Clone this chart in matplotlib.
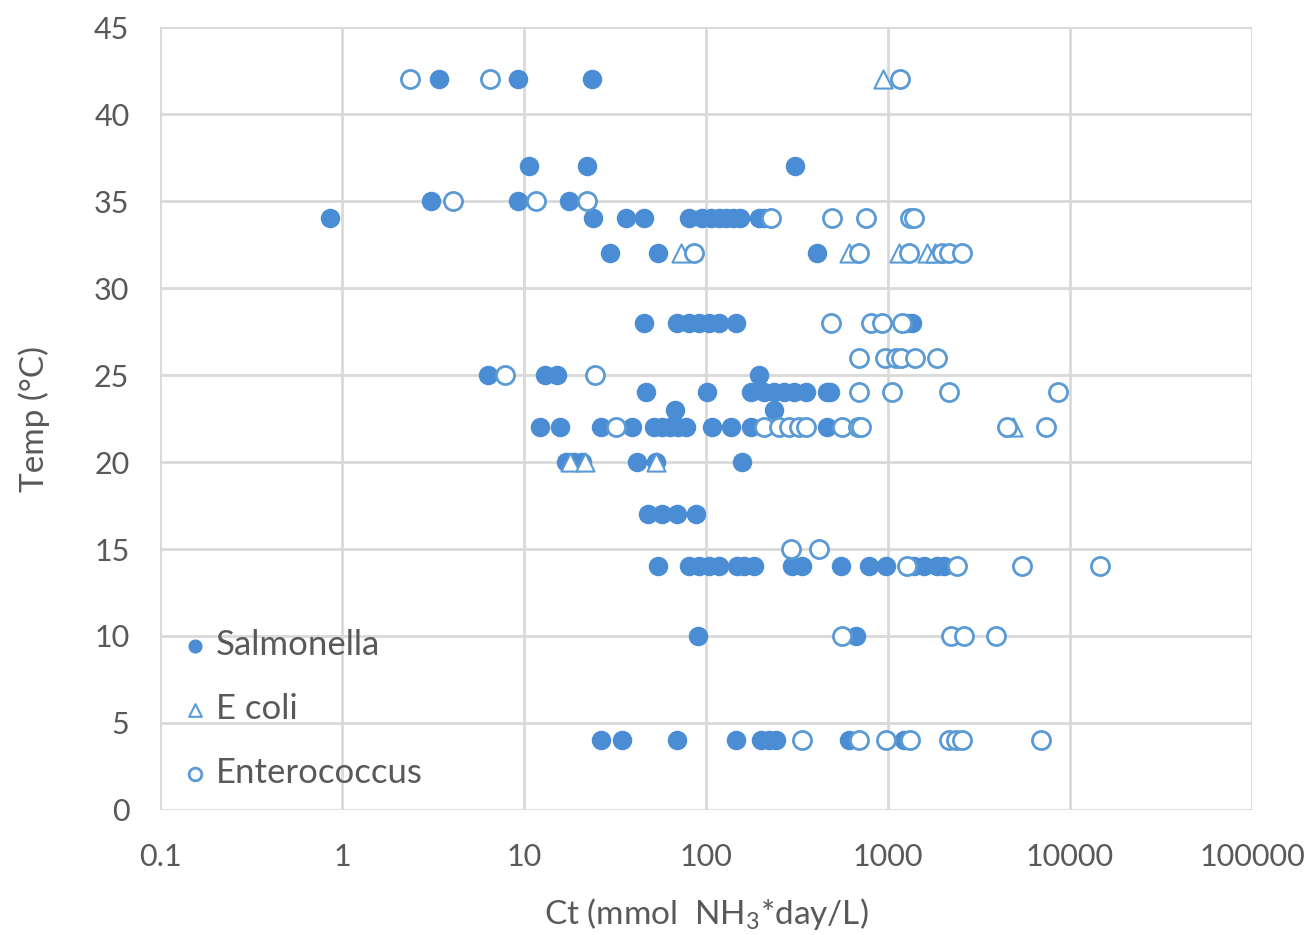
import matplotlib
matplotlib.use("Agg")
import matplotlib.pyplot as plt
import numpy as np

plt.rcParams['font.family'] = ['Lato', 'DejaVu Sans']
plt.rcParams['mathtext.fontset'] = 'custom'
plt.rcParams['mathtext.rm'] = 'Lato'
plt.rcParams['mathtext.default'] = 'regular'

# Salmonella: Ct (mmol NH3*day/L) and temperature (C)
sal_ct = [3.4, 9.3, 23.5,
          10.6, 22.3, 308,
          3.1, 9.3, 17.6,
          0.86, 23.8, 36.5, 45.8, 80.9, 95.3, 107, 118, 129, 141, 154, 196, 208,
          29.5, 54.7, 407,
          45.8, 69.5, 80.9, 91.8, 104, 118, 146, 1250, 1350,
          6.3, 13.0, 15.1, 196,
          47, 101.6, 177, 208, 237, 268, 305, 354, 462, 480,
          67.8, 237,
          12.2, 15.7, 26.6, 39.4, 52, 57.5, 63.6, 70.4, 77.9, 108, 137, 177, 462,
          17.1, 18.9, 20.9, 42, 53.3, 158,
          48.2, 57.5, 69.5, 88.3,
          54.7, 80.9, 91.8, 104, 118, 148, 162, 184, 297, 337, 551, 785, 973, 1385, 1571, 1852, 2024,
          90.6, 666,
          26.6, 34.7, 69.5, 146, 201, 222, 243, 610, 1221]
sal_temp = [42] * 3 + [37] * 3 + [35] * 3 + [34] * 13 + [32] * 3 + [28] * 9 + \
           [25] * 4 + [24] * 10 + [23] * 2 + [22] * 13 + [20] * 6 + [17] * 4 + \
           [14] * 17 + [10] * 2 + [4] * 9

# E coli
eco_ct = [936, 73.1, 610, 1146, 1632, 1806, 4893, 17.8, 21.5, 53.3]
eco_temp = [42, 32, 32, 32, 32, 32, 22, 20, 20, 20]

# Enterococcus
ent_ct = [2.36, 6.48, 1161,
          4.06, 11.6, 22.3,
          228, 492, 755, 1316, 1385,
          86.1, 692, 1300, 1972, 2155, 2540,
          486, 805, 925, 1191,
          692, 960, 1104, 1180, 1403, 1852,
          7.83, 24.4,
          692, 1049, 2155, 8635,
          32.2, 208, 252, 286, 324, 354, 558, 683, 709, 4480, 7425,
          293, 418,
          1268, 2383, 5416, 14680,
          558, 2210, 2604, 3900,
          337, 692, 973, 1316, 2155, 2353, 2540, 6966]
ent_temp = [42] * 3 + [35] * 3 + [34] * 5 + [32] * 6 + [28] * 4 + [26] * 6 + \
           [25] * 2 + [24] * 4 + [22] * 11 + [15] * 2 + [14] * 4 + [10] * 4 + [4] * 8

x_ticks = [0.1, 1, 10, 100, 1000, 10000, 100000]
x_labels = ['0.1', '1', '10', '100', '1000', '10000', '100000']
y_ticks = list(range(0, 50, 5))

blue = '#4a8dd4'
ring = '#5b9bd5'
text_grey = '#595959'

fig = plt.figure(figsize=(13.14, 9.35), dpi=100)
ax = fig.add_axes([0.1218, 0.1337, 0.831, 0.8374])

ax.scatter(sal_ct, sal_temp, s=170, marker='o', color=blue, edgecolors=blue,
           linewidths=1, label='Salmonella', zorder=3)
ax.scatter(eco_ct, eco_temp, s=170, marker='^', facecolors='white', edgecolors=ring,
           linewidths=1.5, label='E coli', zorder=4)
ax.scatter(ent_ct, ent_temp, s=170, marker='o', facecolors='white', edgecolors=ring,
           linewidths=2, label='Enterococcus', zorder=5)

ax.set_xscale('log')
ax.set_xlim(0.1, 100000)
ax.set_ylim(0, 45)
ax.set_xticks(x_ticks)
ax.set_xticklabels(x_labels)
ax.set_yticks(y_ticks)
ax.xaxis.set_minor_locator(matplotlib.ticker.NullLocator())

ax.grid(True, color='#d9d9d9', linewidth=2)
ax.set_axisbelow(True)
for s in ax.spines.values():
    s.set_visible(False)
ax.tick_params(length=0, labelsize=22, colors=text_grey)
ax.tick_params(axis='x', pad=24)
ax.tick_params(axis='y', pad=22)

ax.set_xlabel('Ct (mmol  NH$_3$*day/L)', fontsize=24, color=text_grey, labelpad=18)
ax.set_ylabel('Temp (°C)', fontsize=24, color=text_grey, labelpad=32)

ax.legend(loc='lower left', bbox_to_anchor=(0.0, 0.0), frameon=False, fontsize=25,
          markerscale=0.7, handlelength=0.8, handletextpad=0.2, labelspacing=0.92,
          labelcolor=text_grey, borderaxespad=0.2)

fig.savefig('out.png', dpi=100, facecolor='white')
